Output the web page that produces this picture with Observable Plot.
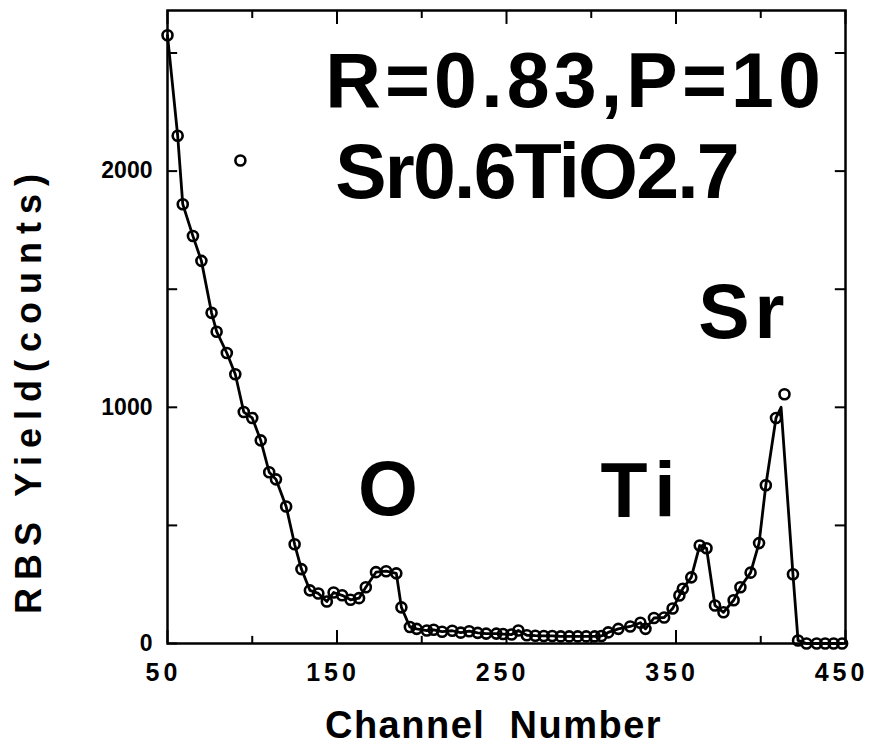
<!DOCTYPE html>
<html><head><meta charset="utf-8">
<script src="https://cdn.jsdelivr.net/npm/d3@7"></script>
<script src="https://cdn.jsdelivr.net/npm/@observablehq/plot@0.6"></script>
<style>
body{margin:0;background:#fff}
#chart svg{display:block}
g[aria-label="x-axis tick label"] text{letter-spacing:4px}
</style></head><body><div id="chart"></div>
<script>
// measured spectrum (open circles)
const channels = [50,56,59,65,70,76,79,85,90,95,100,105,110,114,120,125,129,134,139,144,148,153,158,163,167,173,179,185,188,193,197,203,207,212,218,223,228,233,238,244,248,253,257,262,267,272,277,282,287,292,297,302,306,310,316,323,329,332,337,343,348,352,354,359,364,368,373,378,384,388,394,399,403,409,414,419,422,427,433,438,443,448];
const counts = [2575,2150,1860,1725,1620,1400,1320,1230,1140,980,955,860,725,695,580,420,315,225,212,178,216,204,185,192,238,302,306,297,153,70,62,55,58,50,54,46,52,45,42,42,40,38,55,35,33,32,32,30,30,30,30,30,32,47,62,72,88,62,108,110,148,203,232,280,415,403,161,132,183,238,300,425,670,955,1055,293,13,0,0,0,0,0];
// stray measured point
const strayChannels = [93];
const strayCounts = [2045];
// simulated fit (solid line)
const fitChannels = [50,56,59,65,70,76,79,85,90,95,100,105,110,114,120,125,129,134,139,144,148,153,158,163,167,173,179,185,188,193,197,203,207,212,218,223,228,233,238,244,248,253,257,262,267,272,277,282,287,292,297,302,306,310,316,323,329,332,337,343,348,352,354,359,364,368,373,378,384,388,394,399,403,409,412,419,422,427,433,438,443,448];
const fitCounts = [2575,2150,1860,1725,1620,1400,1320,1230,1140,980,955,860,725,695,580,420,315,225,212,178,216,204,185,192,238,302,306,297,153,70,62,55,58,50,54,46,52,45,42,42,40,38,55,35,33,32,32,30,30,30,30,30,32,47,62,72,88,62,108,110,148,203,232,280,415,403,161,132,183,238,300,425,670,955,1000,293,13,0,0,0,0,0];

const xLabelTicks = [50,150,250,350,450];
const xMinorTicks = [100,200,300,400];
const yLabelTicks = [0,1000,2000];
const yMinorTicks = [500,1500,2500];
const xTitle = "Channel  Number";
const yTitle = "RBS Yield(counts)";
const annotText = ["R=0.83,P=10","Sr0.6TiO2.7","O","Ti","Sr"];
const annotChannel = [143,149,180,330,390];
const annotCount = [2377,1992,647,639,1396];

const measured = channels.map((c,i)=>({c, n: counts[i]}));
const stray = strayChannels.map((c,i)=>({c, n: strayCounts[i]}));
const fit = fitChannels.map((c,i)=>({c, n: fitCounts[i]}));

const Y0 = 0, Y1 = 2680, X0 = 50, X1 = 450;
const font = "'Liberation Sans', Arial, Helvetica, sans-serif";
const annot = (i, opts={}) => Plot.text([i], {
  x: j => annotChannel[j], y: j => annotCount[j], text: j => annotText[j],
  fontSize: 77, fontWeight: "bold", fontFamily: font, fill: "black", ...opts
});

const chart = Plot.plot({
  width: 871, height: 748,
  marginLeft: 167, marginRight: 26, marginTop: 10, marginBottom: 105,
  style: {fontFamily: font, background: "white", color: "black", overflow: "visible"},
  x: {domain: [X0, X1]},
  y: {domain: [Y0, Y1]},
  marks: [
    // inward tick marks (bottom / top)
    Plot.ruleX(xLabelTicks, {x: d=>d, y1: Y0, y2: Y0 + 55, strokeWidth: 2}),
    Plot.ruleX(xMinorTicks, {x: d=>d, y1: Y0, y2: Y0 + 30, strokeWidth: 2}),
    Plot.ruleX(xLabelTicks, {x: d=>d, y1: Y1, y2: Y1 - 59, strokeWidth: 2}),
    Plot.ruleX(xMinorTicks, {x: d=>d, y1: Y1, y2: Y1 - 34, strokeWidth: 2}),
    // inward tick marks (left / right)
    Plot.ruleY(yLabelTicks.concat(yMinorTicks), {y: d=>d, x1: X0, x2: X0 + 6, strokeWidth: 2}),
    Plot.ruleY(yLabelTicks.concat(yMinorTicks), {y: d=>d, x1: X1, x2: X1 - 6, strokeWidth: 2}),
    Plot.axisX(xLabelTicks, {tickSize: 0, tickPadding: 20, dx: -4, fontSize: 25, fontWeight: "bold", label: null, tickFormat: d => String(d)}),
    Plot.axisY(yLabelTicks, {tickSize: 0, tickPadding: 15, fontSize: 23, fontWeight: "bold", label: null, tickFormat: d => String(d)}),
    Plot.text([xTitle], {frameAnchor: "bottom", dy: 94, dx: -13, fontSize: 38, fontWeight: "bold"}),
    Plot.text([yTitle], {frameAnchor: "left", textAnchor: "middle", rotate: -90, dx: -138, dy: 63, fontSize: 36, fontWeight: "bold"}),
    Plot.line(fit, {x: "c", y: "n", stroke: "black", strokeWidth: 2.8}),
    Plot.dot(measured, {x: "c", y: "n", r: 5, stroke: "black", strokeWidth: 2.6, fill: "none"}),
    Plot.dot(stray, {x: "c", y: "n", r: 5, stroke: "black", strokeWidth: 2.6, fill: "none"}),
    annot(0, {textAnchor: "start"}),
    annot(1, {textAnchor: "start"}),
    annot(2),
    annot(3),
    annot(4),
    Plot.frame({stroke: "black", strokeWidth: 2.5})
  ]
});
// letter spacing to match the reference lettering
const spacing = new Map([
  [annotText[0], "4.2px"], [annotText[1], "-1.8px"], [annotText[3], "8px"], [annotText[4], "5px"],
  [xTitle, "1.5px"], [yTitle, "8px"]
]);
d3.select(chart).selectAll("text").each(function() {
  const s = spacing.get(this.textContent);
  if (s) this.style.letterSpacing = s;
});
document.getElementById("chart").appendChild(chart);
</script>
</body></html>
